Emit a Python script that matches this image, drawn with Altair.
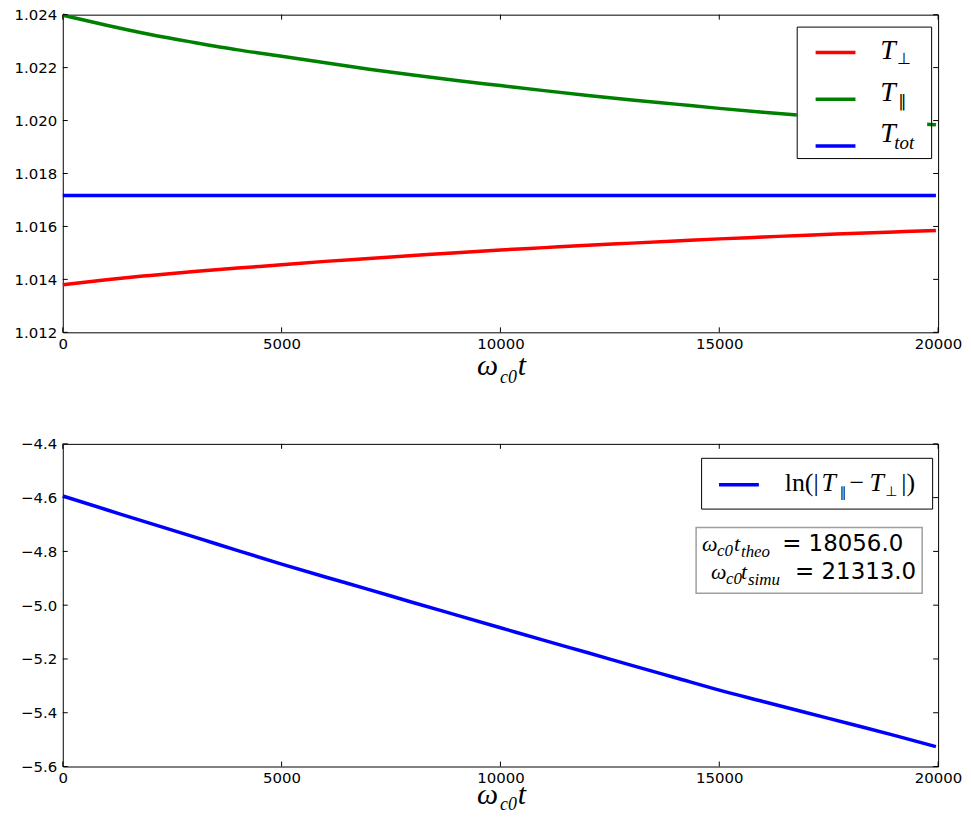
import altair as alt
import pandas as pd

# ---------------- data ----------------
t = [0, 1000, 2000, 3000, 4000, 5000, 6000, 7000, 8000, 9000, 10000,
     11000, 12000, 13000, 14000, 15000, 16000, 17000, 18000, 19000, 19950]

T_perp = [1.01380, 1.01399, 1.01415, 1.01430, 1.01443, 1.01455, 1.01468,
          1.01479, 1.01490, 1.01501, 1.01511, 1.01520, 1.01529, 1.01537,
          1.01545, 1.01553, 1.01560, 1.01567, 1.01573, 1.01579, 1.01585]

T_par = [1.02398, 1.02360, 1.02325, 1.02295, 1.02267, 1.02243, 1.02218,
         1.02194, 1.02172, 1.02151, 1.02132, 1.02113, 1.02095, 1.02078,
         1.02062, 1.02046, 1.02031, 1.02018, 1.02006, 1.01994, 1.01984]

T_tot = [1.01717, 1.01717, 1.01717, 1.01717, 1.01717, 1.01717, 1.01717,
         1.01717, 1.01717, 1.01717, 1.01717, 1.01717, 1.01717, 1.01717,
         1.01717, 1.01717, 1.01717, 1.01717, 1.01717, 1.01717, 1.01717]

ln_diff = [-4.594, -4.645, -4.696, -4.746, -4.797, -4.847, -4.895, -4.942,
           -4.990, -5.037, -5.084, -5.131, -5.177, -5.224, -5.270, -5.316,
           -5.358, -5.400, -5.442, -5.484, -5.526]

x_ticks = [0, 5000, 10000, 15000, 20000]
top_y_ticks = [1.012, 1.014, 1.016, 1.018, 1.020, 1.022, 1.024]
bot_y_ticks = [-5.6, -5.4, -5.2, -5.0, -4.8, -4.6, -4.4]

series_names = ["T_perp", "T_par", "T_tot"]
series_colors = ["#ff0000", "#008000", "#0000ff"]
bottom_names = ["ln"]
bottom_colors = ["#0000ff"]

theo_text = "= 18056.0"
simu_text = "= 21313.0"

# ---------------- tables ----------------
top_df = pd.DataFrame({
    "t": t + t + t,
    "T": T_perp + T_par + T_tot,
    "series": [series_names[0]] * len(t) + [series_names[1]] * len(t) + [series_names[2]] * len(t),
})
bot_df = pd.DataFrame({"t": t, "L": ln_diff, "series": bottom_names * len(t)})
xt_df = pd.DataFrame({"t": x_ticks})
yt_top_df = pd.DataFrame({"T": top_y_ticks})
yt_bot_df = pd.DataFrame({"L": bot_y_ticks})
one = pd.DataFrame({"k": [0]})

W = 879
H1 = 319
H2 = 324
TL = 5  # inward tick length

SERIF = "Liberation Serif"
SANS = "DejaVu Sans"
MONO = "DejaVu Sans Mono"

xscale = alt.Scale(domain=[0, 20000], nice=False, zero=False)
yscale_top = alt.Scale(domain=[1.012, 1.024], nice=False, zero=False)
yscale_bot = alt.Scale(domain=[-5.6, -4.4], nice=False, zero=False)

x_axis = alt.Axis(values=x_ticks, format="d", title=None, labelPadding=4)
y_axis_top = alt.Axis(values=top_y_ticks, format=".3f", title=None, labelPadding=6, minExtent=48)
y_axis_bot = alt.Axis(values=bot_y_ticks, format=".1f", title=None, labelPadding=6, minExtent=48)


def txt(s, x, y, size, font=SERIF, style="italic", align="left"):
    return alt.Chart(one).mark_text(
        text=s, align=align, baseline="alphabetic", font=font,
        fontSize=size, fontStyle=style, color="black"
    ).encode(x=alt.value(x), y=alt.value(y))


def inward_ticks(yfield, ydf, yscale, yaxis, H):
    X = alt.X("t:Q", scale=xscale, axis=x_axis)
    Y = alt.Y(f"{yfield}:Q", scale=yscale, axis=yaxis)
    return [
        alt.Chart(xt_df).mark_rule(color="black", strokeWidth=1).encode(
            x=X, y=alt.value(0), y2=alt.value(TL)),
        alt.Chart(xt_df).mark_rule(color="black", strokeWidth=1).encode(
            x=X, y=alt.value(H - TL), y2=alt.value(H)),
        alt.Chart(ydf).mark_rule(color="black", strokeWidth=1).encode(
            y=Y, x=alt.value(0), x2=alt.value(TL)),
        alt.Chart(ydf).mark_rule(color="black", strokeWidth=1).encode(
            y=Y, x=alt.value(W - TL), x2=alt.value(W)),
    ]


def x_title(H, base, sub):
    return [
        txt("ω", 416, H + base, 30),
        txt("c0", 439, H + sub, 18),
        txt("t", 457, H + base, 30),
    ]


# ---------------- top panel ----------------
top_lines = alt.Chart(top_df).mark_line(strokeWidth=3.5, interpolate="monotone").encode(
    x=alt.X("t:Q", scale=xscale, axis=x_axis),
    y=alt.Y("T:Q", scale=yscale_top, axis=y_axis_top),
    color=alt.Color("series:N",
                    scale=alt.Scale(domain=series_names, range=series_colors),
                    legend=alt.Legend(
                        title=None, orient="none", legendX=737, legendY=12,
                        padding=4, symbolType="stroke", symbolSize=1600,
                        symbolStrokeWidth=3.5, symbolOffset=13, rowPadding=17,
                        labelOffset=12, labelLimit=400, labelOpacity=0,
                        labelFont=MONO, labelFontSize=16, labelExpr="'XXXXXX'",
                        strokeColor="black", cornerRadius=0)),
)

top_legend_bg = alt.Chart(one).mark_rect(color="white").encode(
    x=alt.value(737), x2=alt.value(868), y=alt.value(12), y2=alt.value(145))

top_labels = [
    txt("T", 821, 45, 28), txt("⊥", 838, 50, 16, font=SANS, style="normal"),
    txt("T", 821, 87, 28), txt("∥", 839, 93, 17, font=SANS, style="normal"),
    txt("T", 821, 128, 28), txt("tot", 835, 135, 19),
]

top = alt.layer(
    top_lines, *inward_ticks("T", yt_top_df, yscale_top, y_axis_top, H1), top_legend_bg,
    *top_labels, *x_title(H1, 43, 51)
).properties(width=W, height=H1)

# ---------------- bottom panel ----------------
bot_line = alt.Chart(bot_df).mark_line(strokeWidth=3.5, interpolate="monotone").encode(
    x=alt.X("t:Q", scale=xscale, axis=x_axis),
    y=alt.Y("L:Q", scale=yscale_bot, axis=y_axis_bot),
    color=alt.Color("series:N",
                    scale=alt.Scale(domain=bottom_names, range=bottom_colors),
                    legend=alt.Legend(
                        title=None, orient="none", legendX=641, legendY=14,
                        padding=5, symbolType="stroke", symbolSize=1600,
                        symbolStrokeWidth=3.5, symbolOffset=11,
                        labelOffset=6, labelLimit=400, labelOpacity=0,
                        labelFont=MONO, labelFontSize=19, labelBaseline="top",
                        labelExpr="'XXXXXXXXXXXXXX'",
                        strokeColor="black", cornerRadius=0)),
)

bot_legend_bg = alt.Chart(one).mark_rect(color="white").encode(
    x=alt.value(641), x2=alt.value(868), y=alt.value(14), y2=alt.value(65))

bot_legend_labels = [
    txt("ln(|", 725, 47, 26, style="normal"),
    txt("T", 762, 47, 26),
    txt("∥", 780, 53, 14, font=SANS, style="normal"),
    txt("−", 790, 47, 26, style="normal"),
    txt("T", 810, 47, 26),
    txt("⊥", 826, 52, 14, font=SANS, style="normal"),
    txt("|)", 842, 47, 26, style="normal"),
]

info_box = alt.Chart(one).mark_rect(color="white", stroke="#a0a0a0", strokeWidth=1.5).encode(
    x=alt.value(636), x2=alt.value(863), y=alt.value(84), y2=alt.value(150))

info_text = [
    txt("ω", 642, 108, 22), txt("c0", 657, 113, 17), txt("t", 674, 108, 22),
    txt("theo", 681, 114, 17), txt(theo_text, 844, 108, 23, font=SANS, style="normal", align="right"),
    txt("ω", 651, 136, 22), txt("c0", 666, 141, 17), txt("t", 681, 136, 22),
    txt("simu", 688, 142, 17), txt(simu_text, 857, 136, 23, font=SANS, style="normal", align="right"),
]

bottom = alt.layer(
    bot_line, *inward_ticks("L", yt_bot_df, yscale_bot, y_axis_bot, H2), bot_legend_bg,
    *bot_legend_labels, info_box, *info_text, *x_title(H2, 38, 44)
).properties(width=W, height=H2)

chart = alt.vconcat(top, bottom, spacing=112, bounds="flush").resolve_scale(
    x="independent", y="independent", color="independent"
).resolve_legend(color="independent").properties(
    padding={"left": 5, "top": -3, "right": 0, "bottom": -3},
    background="white",
).configure_view(
    stroke="black", strokeWidth=1
).configure_axis(
    labelFont=SANS, labelFontSize=15, labelColor="black",
    ticks=False, domain=False, grid=False, labelFlush=False, labelOverlap=False
)

chart.save("out.html", embed_options={"renderer": "svg", "actions": False})
